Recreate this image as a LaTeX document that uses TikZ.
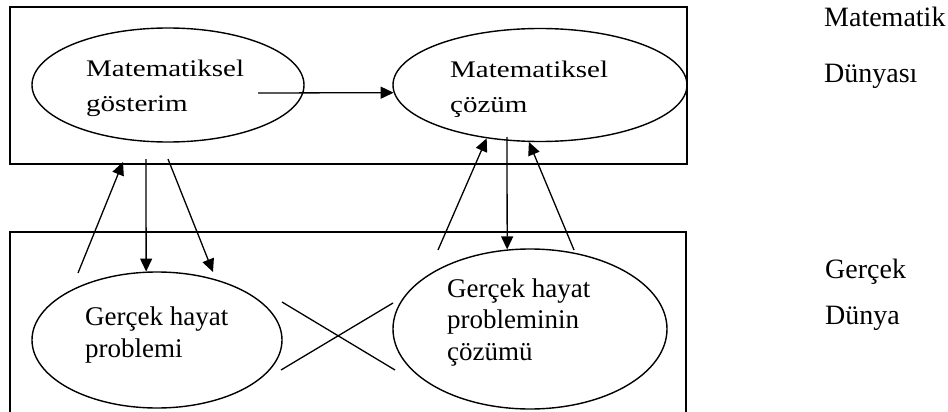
\documentclass[tikz,border=0pt]{standalone}
\usepackage{fontspec}
\setmainfont{Liberation Serif}
\usetikzlibrary{arrows.meta,shapes.geometric}
\begin{document}
\begin{tikzpicture}[x=1pt,y=-1pt,
  ell/.style={draw, ellipse, line width=1.4pt, inner sep=0pt},
  wbox/.style={draw, rectangle, line width=1.8pt, inner sep=0pt},
  lbl/.style={align=left, anchor=base west, inner sep=0pt, font=\fontsize{27}{32}\selectfont},
  toplbl/.style={lbl, yscale=0.82, font=\fontsize{29}{41.5}\selectfont},
  conn/.style={line width=1.3pt},
  arr/.style={conn, -{Triangle[length=13pt,width=12pt]}},
]
\clip (0,0) rectangle (948,412);
% boxes
\node[wbox, minimum width=677pt, minimum height=157pt] (mw) at (348.5,85.5) {};
\node[wbox, minimum width=676pt, minimum height=200pt] (gw) at (348,332) {};
% ellipses
\node[ell, minimum width=272pt, minimum height=114pt] (g1) at (168,85) {};
\node[ell, minimum width=294pt, minimum height=113pt] (g2) at (540,85) {};
\node[ell, minimum width=250pt, minimum height=136pt] (g3) at (157,340) {};
\node[ell, minimum width=274pt, minimum height=160pt] (g4) at (530,329) {};
% texts (anchored at the baseline of their last line)
\node[toplbl] (t1) at (86,111) {Matematiksel\\gösterim};
\node[toplbl] (t2) at (450,112) {Matematiksel\\çözüm};
\node[lbl] (t3) at (85,357) {Gerçek hayat\\problemi};
\node[lbl, font=\fontsize{27}{31.5}\selectfont] (t4) at (447,360) {Gerçek hayat\\probleminin\\çözümü};
\node[lbl, font=\fontsize{28}{56}\selectfont] (mdl) at (824,82) {Matematik\\Dünyası};
\node[lbl, font=\fontsize{28}{46}\selectfont] (gdl) at (825,324) {Gerçek\\Dünya};
% arrows
\coordinate (a1s) at (258,93);
\coordinate (a2s) at (78,273);
\coordinate (a2e) at (123,162);
\coordinate (a3s) at (146,159);
\coordinate (a4s) at (168,159);
\coordinate (a4e) at (213,272);
\coordinate (a5s) at (438,250);
\coordinate (a6s) at (507,137);
\coordinate (a7s) at (574,250);
\draw[arr] (a1s) -- (g2.183);
\draw[arr] (a2s) -- (a2e);
\draw[arr] (a3s) -- (g3.99);
\draw[arr] (a4s) -- (a4e);
\draw[arr] (a5s) -- (g2.225);
\draw[arr] (a6s) -- (g4.106);
\draw[arr] (a7s) -- (g2.259);
% cross lines
\coordinate (c1a) at (282,302);
\coordinate (c1b) at (395,370);
\coordinate (c2a) at (281,370);
\coordinate (c2b) at (393,303);
\draw[conn] (c1a) -- (c1b);
\draw[conn] (c2a) -- (c2b);
\end{tikzpicture}
\end{document}
